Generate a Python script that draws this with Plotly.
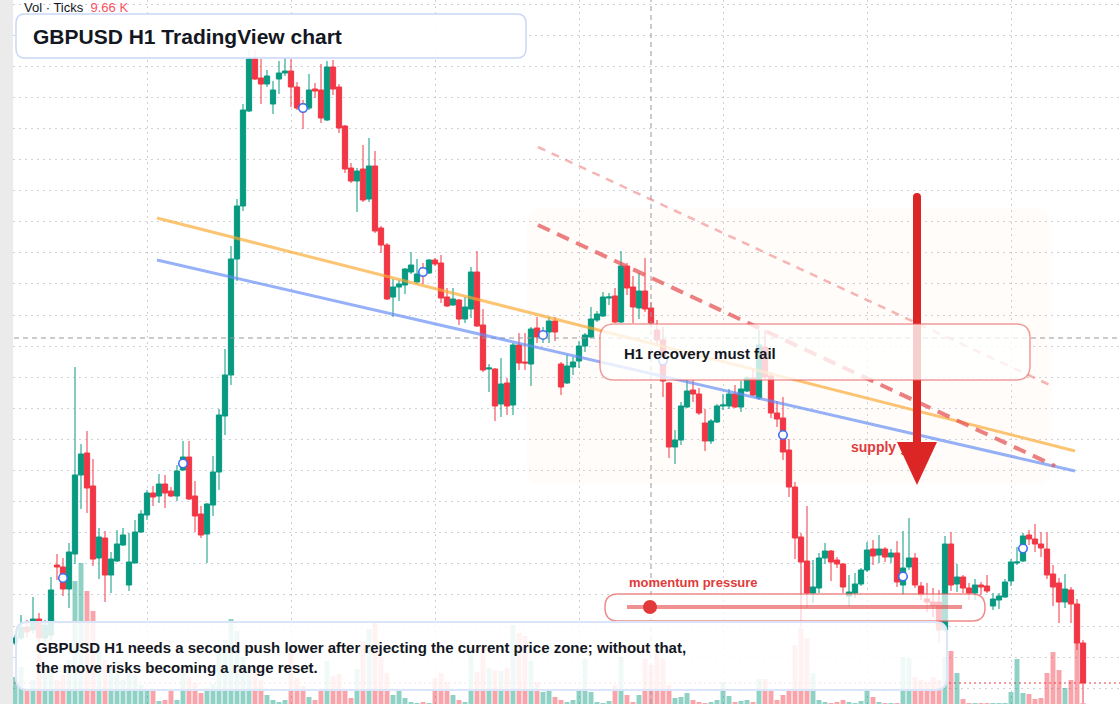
import plotly.graph_objects as go

# ---------------- data (GBPUSD H1) ----------------
open_ = [1.2357,1.2362,1.2373,1.2370,1.2381,1.2362,1.2365,1.2435,1.2433,1.2411,
 1.2446,1.2525,1.2547,1.2514,1.2442,1.2462,1.2425,1.2439,1.2455,1.2415,
 1.2437,1.2468,1.2485,1.2507,1.2504,1.2516,1.2509,1.2504,1.2530,1.2543,
 1.2504,1.2486,1.2466,1.2495,1.2528,1.2584,1.2625,1.2741,1.2794,1.2889,
 1.2941,1.2922,1.2916,1.2896,1.2921,1.2927,1.2929,1.2913,1.2896,1.2892,
 1.2911,1.2910,1.2880,1.2933,1.2913,1.2874,1.2832,1.2819,1.2831,1.2801,
 1.2834,1.2772,1.2755,1.2703,1.2713,1.2715,1.2728,1.2718,1.2732,1.2727,
 1.2740,1.2737,1.2703,1.2695,1.2700,1.2681,1.2691,1.2728,1.2675,1.2631,
 1.2631,1.2596,1.2617,1.2595,1.2655,1.2638,1.2636,1.2672,1.2662,1.2668,
 1.2679,1.2636,1.2617,1.2633,1.2639,1.2654,1.2663,1.2680,1.2684,1.2702,
 1.2704,1.2678,1.2734,1.2713,1.2692,1.2709,1.2692,1.2670,1.2660,1.2617,
 1.2553,1.2560,1.2593,1.2610,1.2606,1.2577,1.2559,1.2578,1.2594,1.2594,
 1.2606,1.2593,1.2609,1.2622,1.2602,1.2653,1.2624,1.2587,1.2582,1.2550,
 1.2513,1.2463,1.2439,1.2407,1.2412,1.2442,1.2449,1.2440,1.2436,1.2404,
 1.2407,1.2416,1.2430,1.2451,1.2445,1.2451,1.2443,1.2447,1.2415,1.2433,
 1.2442,1.2414,1.2401,1.2398,1.2398,1.2370,1.2456,1.2416,1.2423,1.2412,
 1.2407,1.2415,1.2414,1.2394,1.2400,1.2403,1.2419,1.2437,1.2439,1.2465,
 1.2461,1.2456,1.2451,1.2426,1.2417,1.2398,1.2410,1.2396,1.2357]

high = [1.2365,1.2385,1.2380,1.2403,1.2387,1.2380,1.2423,1.2446,1.2442,1.2457,
 1.2633,1.2556,1.2569,1.2541,1.2472,1.2469,1.2448,1.2470,1.2472,1.2467,
 1.2480,1.2490,1.2510,1.2514,1.2526,1.2525,1.2513,1.2535,1.2559,1.2559,
 1.2519,1.2494,1.2497,1.2544,1.2591,1.2651,1.2754,1.2801,1.2896,1.2950,
 1.2950,1.2941,1.2930,1.2919,1.2939,1.2942,1.2941,1.2918,1.2900,1.2926,
 1.2917,1.2936,1.2939,1.2940,1.2916,1.2875,1.2837,1.2832,1.2855,1.2862,
 1.2849,1.2774,1.2757,1.2721,1.2720,1.2732,1.2748,1.2741,1.2737,1.2741,
 1.2742,1.2745,1.2712,1.2712,1.2701,1.2703,1.2733,1.2749,1.2691,1.2636,
 1.2632,1.2642,1.2622,1.2657,1.2667,1.2667,1.2673,1.2683,1.2673,1.2683,
 1.2683,1.2638,1.2645,1.2643,1.2659,1.2667,1.2693,1.2689,1.2708,1.2707,
 1.2712,1.2749,1.2737,1.2724,1.2727,1.2742,1.2698,1.2680,1.2673,1.2618,
 1.2570,1.2598,1.2620,1.2620,1.2612,1.2591,1.2581,1.2596,1.2606,1.2611,
 1.2615,1.2619,1.2624,1.2632,1.2670,1.2670,1.2628,1.2599,1.2603,1.2561,
 1.2518,1.2467,1.2494,1.2440,1.2447,1.2457,1.2450,1.2443,1.2437,1.2425,
 1.2427,1.2432,1.2458,1.2460,1.2465,1.2453,1.2451,1.2459,1.2469,1.2482,
 1.2447,1.2418,1.2417,1.2412,1.2410,1.2464,1.2468,1.2436,1.2425,1.2417,
 1.2421,1.2418,1.2425,1.2407,1.2407,1.2421,1.2441,1.2453,1.2467,1.2470,
 1.2476,1.2468,1.2468,1.2435,1.2422,1.2426,1.2413,1.2401,1.2360]

low = [1.2355,1.2360,1.2362,1.2366,1.2358,1.2358,1.2360,1.2420,1.2404,1.2392,
 1.2436,1.2491,1.2487,1.2434,1.2421,1.2398,1.2407,1.2438,1.2454,1.2409,
 1.2437,1.2467,1.2480,1.2494,1.2497,1.2492,1.2503,1.2499,1.2529,1.2500,
 1.2468,1.2462,1.2437,1.2484,1.2510,1.2565,1.2615,1.2719,1.2789,1.2888,
 1.2920,1.2896,1.2913,1.2886,1.2906,1.2924,1.2893,1.2890,1.2871,1.2890,
 1.2902,1.2877,1.2879,1.2905,1.2867,1.2827,1.2817,1.2788,1.2798,1.2798,
 1.2767,1.2747,1.2700,1.2683,1.2699,1.2706,1.2726,1.2716,1.2716,1.2726,
 1.2734,1.2697,1.2693,1.2694,1.2675,1.2677,1.2682,1.2673,1.2628,1.2608,
 1.2579,1.2583,1.2585,1.2585,1.2630,1.2630,1.2614,1.2657,1.2657,1.2657,
 1.2659,1.2605,1.2616,1.2625,1.2632,1.2648,1.2662,1.2678,1.2683,1.2695,
 1.2677,1.2677,1.2705,1.2677,1.2681,1.2688,1.2673,1.2655,1.2603,1.2542,
 1.2536,1.2555,1.2592,1.2598,1.2585,1.2549,1.2556,1.2577,1.2590,1.2591,
 1.2592,1.2588,1.2608,1.2604,1.2600,1.2620,1.2582,1.2573,1.2540,1.2503,
 1.2441,1.2373,1.2392,1.2397,1.2407,1.2436,1.2419,1.2432,1.2407,1.2393,
 1.2402,1.2414,1.2428,1.2435,1.2437,1.2438,1.2437,1.2413,1.2405,1.2430,
 1.2412,1.2400,1.2388,1.2383,1.2357,1.2368,1.2409,1.2408,1.2407,1.2400,
 1.2400,1.2405,1.2407,1.2390,1.2391,1.2402,1.2414,1.2435,1.2438,1.2455,
 1.2448,1.2443,1.2421,1.2394,1.2377,1.2392,1.2377,1.2350,1.2297]

close = [1.2362,1.2373,1.2368,1.2381,1.2362,1.2375,1.2410,1.2433,1.2411,1.2448,
 1.2525,1.2546,1.2512,1.2441,1.2463,1.2425,1.2441,1.2456,1.2465,1.2438,
 1.2468,1.2486,1.2507,1.2503,1.2516,1.2507,1.2504,1.2529,1.2543,1.2501,
 1.2484,1.2465,1.2496,1.2528,1.2585,1.2625,1.2741,1.2794,1.2890,1.2941,
 1.2921,1.2916,1.2924,1.2910,1.2927,1.2929,1.2913,1.2892,1.2888,1.2910,
 1.2909,1.2882,1.2933,1.2911,1.2872,1.2831,1.2819,1.2829,1.2800,1.2834,
 1.2769,1.2755,1.2701,1.2713,1.2716,1.2731,1.2735,1.2726,1.2724,1.2740,
 1.2736,1.2702,1.2694,1.2701,1.2681,1.2693,1.2728,1.2674,1.2630,1.2632,
 1.2594,1.2616,1.2594,1.2655,1.2637,1.2637,1.2671,1.2663,1.2668,1.2679,
 1.2668,1.2613,1.2634,1.2638,1.2654,1.2665,1.2681,1.2686,1.2703,1.2703,
 1.2678,1.2734,1.2712,1.2693,1.2709,1.2691,1.2677,1.2660,1.2619,1.2553,
 1.2560,1.2594,1.2609,1.2606,1.2587,1.2559,1.2579,1.2594,1.2595,1.2606,
 1.2593,1.2611,1.2622,1.2605,1.2655,1.2623,1.2587,1.2581,1.2548,1.2513,
 1.2462,1.2438,1.2407,1.2413,1.2442,1.2449,1.2438,1.2436,1.2413,1.2408,
 1.2416,1.2430,1.2450,1.2444,1.2451,1.2443,1.2447,1.2418,1.2432,1.2442,
 1.2415,1.2405,1.2398,1.2394,1.2370,1.2456,1.2415,1.2423,1.2412,1.2407,
 1.2415,1.2413,1.2409,1.2401,1.2404,1.2418,1.2438,1.2438,1.2464,1.2461,
 1.2456,1.2452,1.2425,1.2413,1.2398,1.2411,1.2396,1.2357,1.2317]

# tick volume, thousands
volume = [270,370,140,240,500,400,350,240,290,440,
 1230,1410,1130,930,540,440,370,340,240,320,
 290,190,140,140,30,40,140,40,310,270,
 210,110,160,200,520,640,850,730,470,340,
 310,240,90,40,20,40,560,260,180,70,
 40,140,430,280,300,140,60,350,620,750,
 810,470,310,90,140,60,20,10,20,10,
 260,310,220,90,40,20,570,320,560,360,
 340,330,360,790,710,680,430,220,120,140,
 70,40,20,40,140,450,120,20,10,30,
 190,470,90,20,90,450,390,510,450,190,
 60,70,110,40,20,10,20,40,220,80,
 20,30,40,20,250,250,140,40,90,140,
 590,760,660,310,40,20,10,20,40,20,
 10,30,140,70,20,10,10,10,470,460,
 270,240,220,270,240,470,530,310,50,10,
 10,10,10,10,10,10,120,450,110,100,
 50,60,310,520,340,160,240,610,9.66]

marker_bars = [8, 28, 48, 68, 88, 108, 128, 148, 168]

title_text = "GBPUSD H1 TradingView chart"
note_text = ("GBPUSD H1 needs a second push lower after rejecting the current price zone; without that,"
             "<br>the move risks becoming a range reset.")
box_text = "H1 recovery must fail"
gate_text = "supply gate"
momentum_text = "momentum pressure"

# ---------------- styling / geometry helpers ----------------
W, H = 1120, 704
ML = 13
PW = W - ML
UP, DOWN = "#089981", "#f23645"
FONT = "Liberation Sans, Arial, sans-serif"
Y_LO, Y_HI = 1.2296, 1.3000
X_LO, X_HI = -1/3, 184 + 1/6


def px(x):
    return (x - ML) / PW


def py(y):
    return 1 - y / H


def dx(x):  # pixel -> bar index
    return X_LO + (x - ML) / PW * (X_HI - X_LO)


def dy(y):  # pixel -> price
    return Y_HI - y / H * (Y_HI - Y_LO)


def rrect(x0, y0, x1, y1, r):
    P = lambda x, y: f"{px(x):.5f},{py(y):.5f}"
    return (f"M {P(x0+r, y0)} L {P(x1-r, y0)} Q {P(x1, y0)} {P(x1, y0+r)} "
            f"L {P(x1, y1-r)} Q {P(x1, y1)} {P(x1-r, y1)} L {P(x0+r, y1)} "
            f"Q {P(x0, y1)} {P(x0, y1-r)} L {P(x0, y0+r)} Q {P(x0, y0)} {P(x0+r, y0)} Z")


idx = list(range(len(open_)))
vol_colors = ["rgba(8,153,129,0.45)" if c >= o else "rgba(242,54,69,0.45)"
              for o, c in zip(open_, close)]

fig = go.Figure()
fig.add_trace(go.Bar(x=idx, y=volume, marker=dict(color=vol_colors, line=dict(width=0)),
                     width=0.82, yaxis="y", xaxis="x", showlegend=False, hoverinfo="skip"))
fig.add_trace(go.Candlestick(
    x=idx, open=open_, high=high, low=low, close=close, yaxis="y2", xaxis="x",
    increasing=dict(line=dict(color=UP, width=1), fillcolor=UP),
    decreasing=dict(line=dict(color=DOWN, width=1), fillcolor=DOWN),
    whiskerwidth=0, showlegend=False, hoverinfo="skip"))
fig.add_trace(go.Scatter(
    x=marker_bars, y=[(open_[i] + close[i]) / 2 for i in marker_bars], yaxis="y2",
    mode="markers", marker=dict(symbol="circle", size=8.5, color="white",
                                line=dict(color="#3d6ff2", width=1.6)),
    showlegend=False, hoverinfo="skip"))
fig.add_trace(go.Scatter(
    x=[dx(851)], y=[dy(448)], yaxis="y2", mode="text", text=[gate_text],
    textposition="middle right",
    textfont=dict(family=FONT, size=14, color="#e03b3b", weight="bold"),
    showlegend=False, hoverinfo="skip"))

shapes = [
    dict(type="path", path=rrect(527, 208, 1052, 485, 18), xref="paper", yref="paper",
         fillcolor="rgba(252,228,206,0.13)", line=dict(width=0), layer="below"),
    dict(type="line", xref="paper", yref="paper", x0=px(14), x1=1, y0=py(683), y1=py(683),
         line=dict(color=DOWN, width=1, dash="2px,3px"), layer="below"),
    dict(type="line", xref="paper", yref="paper", x0=px(14), x1=1, y0=py(338), y1=py(338),
         line=dict(color="#9598a1", width=1, dash="5px,4px"), layer="above"),
    dict(type="line", xref="paper", yref="paper", x0=px(651), x1=px(651), y0=0, y1=1,
         line=dict(color="#9598a1", width=1, dash="5px,4px"), layer="above"),
    dict(type="line", xref="paper", yref="paper", x0=px(157), y0=py(218), x1=px(1075), y1=py(451),
         line=dict(color="rgba(250,170,50,0.68)", width=3), layer="above"),
    dict(type="line", xref="paper", yref="paper", x0=px(157), y0=py(260), x1=px(1075), y1=py(471),
         line=dict(color="rgba(100,140,245,0.68)", width=3), layer="above"),
    dict(type="line", xref="paper", yref="paper", x0=px(538), y0=py(225), x1=px(1055), y1=py(466),
         line=dict(color="rgba(230,85,85,0.75)", width=4, dash="13px,8px"), layer="above"),
    dict(type="line", xref="paper", yref="paper", x0=px(538), y0=py(147), x1=px(1052), y1=py(386),
         line=dict(color="rgba(238,120,120,0.55)", width=2.5, dash="8px,7px"), layer="above"),
    dict(type="line", xref="paper", yref="paper", x0=px(917), y0=py(197), x1=px(917), y1=py(446),
         line=dict(color="#dc2626", width=8), layer="above"),
    dict(type="circle", xref="paper", yref="paper", x0=px(913), x1=px(921), y0=py(201), y1=py(193),
         fillcolor="#dc2626", line=dict(width=0), layer="above"),
    dict(type="path", xref="paper", yref="paper",
         path=f"M {px(897)},{py(442)} L {px(937)},{py(442)} L {px(917)},{py(485)} Z",
         fillcolor="#dc2626", line=dict(width=0), layer="above"),
    dict(type="path", path=rrect(600, 324, 1030, 380, 14), xref="paper", yref="paper",
         fillcolor="rgba(255,255,255,0.78)", line=dict(color="rgba(232,90,90,0.6)", width=1.5),
         layer="above"),
    dict(type="path", path=rrect(605, 594, 985, 621, 13), xref="paper", yref="paper",
         fillcolor="rgba(255,255,255,0.7)", line=dict(color="rgba(232,90,90,0.7)", width=1.5),
         layer="above"),
    dict(type="line", xref="paper", yref="paper", x0=px(627), x1=px(962), y0=py(607), y1=py(607),
         line=dict(color="rgba(229,72,72,0.6)", width=4), layer="above"),
    dict(type="circle", xref="paper", yref="paper", x0=px(643), x1=px(657), y0=py(614), y1=py(600),
         fillcolor="#e23a3a", line=dict(width=0), layer="above"),
    dict(type="path", path=rrect(16, 622, 947, 690, 12), xref="paper", yref="paper",
         fillcolor="rgba(255,255,255,0.86)", line=dict(color="#dbe5fa", width=2), layer="above"),
    dict(type="path", path=rrect(16, 14, 526, 58, 9), xref="paper", yref="paper",
         fillcolor="rgba(255,255,255,0.9)", line=dict(color="#c9d8f6", width=1.5), layer="above"),
]

annotations = [
    dict(text=f"<b>{title_text}</b>", x=px(31), y=py(36), xref="paper", yref="paper",
         xanchor="left", yanchor="middle", showarrow=False,
         font=dict(family=FONT, size=21, color="#131722")),
    dict(text="Vol · Ticks  <span style='color:#f7525f'>9.66 K</span>", x=px(22), y=py(8),
         xref="paper", yref="paper", xanchor="left", yanchor="middle", showarrow=False,
         font=dict(family=FONT, size=13, color="#131722")),
    dict(text=f"<b>{note_text}</b>", x=px(34), y=py(657), xref="paper", yref="paper",
         xanchor="left", yanchor="middle", align="left", showarrow=False,
         font=dict(family=FONT, size=15, color="#131722")),
    dict(text=f"<b>{box_text}</b>", x=px(622), y=py(353), xref="paper", yref="paper",
         xanchor="left", yanchor="middle", showarrow=False,
         font=dict(family=FONT, size=15, color="#131722")),
    dict(text=f"<b>{momentum_text}</b>", x=px(627), y=py(582), xref="paper", yref="paper",
         xanchor="left", yanchor="middle", showarrow=False,
         font=dict(family=FONT, size=13, color="#e03b3b")),
]

grid = dict(gridcolor="#cdd1d8", griddash="2px,4px", gridwidth=1)
fig.update_layout(
    width=W, height=H, margin=dict(l=ML, r=0, t=0, b=0),
    paper_bgcolor="#ebebeb", plot_bgcolor="white",
    hovermode=False, showlegend=False, boxgap=0.12, boxgroupgap=0, bargap=0.15,
    xaxis=dict(range=[X_LO, X_HI], showgrid=True, tick0=22, dtick=24, showticklabels=False,
               zeroline=False, showline=False, ticks="", rangeslider=dict(visible=False), **grid),
    yaxis=dict(range=[0, 7040], showgrid=False, showticklabels=False, zeroline=False,
               showline=False, ticks=""),
    yaxis2=dict(range=[Y_LO, Y_HI], overlaying="y", side="right", showgrid=True, tick0=1.2996,
                dtick=0.00311, showticklabels=False, zeroline=False, showline=False, ticks="",
                **grid),
    shapes=shapes, annotations=annotations,
)

fig.write_html("out.html")
